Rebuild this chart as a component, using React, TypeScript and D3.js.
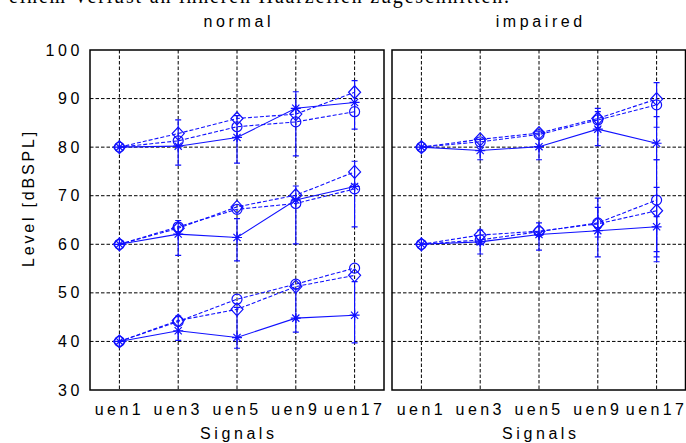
import React from 'react';
import * as d3 from 'd3';

const categories = ['uen1', 'uen3', 'uen5', 'uen9', 'uen17'];
const yTicks = [30, 40, 50, 60, 70, 80, 90, 100];

// normal hearing panel
const normal80Star = [80, 80.2, 82.0, 88.0, 89.2];
const normal80Circle = [80, 81.3, 84.2, 85.2, 87.3];
const normal80Diamond = [80, 82.8, 85.9, 86.8, 91.3];
const normal60Star = [60, 62.1, 61.4, 69.1, 71.9];
const normal60Circle = [60, 63.6, 67.2, 68.4, 71.4];
const normal60Diamond = [60, 63.3, 67.7, 70.1, 74.9];
const normal40Star = [40, 42.2, 40.8, 44.8, 45.4];
const normal40Circle = [40, 44.1, 48.7, 51.8, 55.1];
const normal40Diamond = [40, 44.3, 46.6, 51.3, 53.6];

const normal80Lo = [null, 76.3, 76.7, 78.2, 83.7];
const normal80Hi = [null, 85.6, 86.5, 91.4, 93.7];
const normal60Lo = [null, 57.7, 56.6, 60.1, 63.6];
const normal60Hi = [null, 64.9, 65.3, 72.0, 77.1];
const normal40Lo = [null, 40.2, 38.6, 41.9, 39.7];
const normal40Hi = [null, 45.2, 47.0, 50.8, 52.3];

// impaired hearing panel
const impaired80Star = [80, 79.3, 80.1, 83.7, 80.8];
const impaired80Circle = [80, 81.1, 82.6, 85.6, 88.7];
const impaired80Diamond = [80, 81.6, 82.9, 85.9, 89.9];
const impaired60Star = [60, 60.5, 62.0, 62.8, 63.6];
const impaired60Circle = [60, 60.9, 62.6, 64.4, 69.1];
const impaired60Diamond = [60, 61.9, 62.7, 64.2, 66.9];

const impaired80Lo = [null, 77.4, 77.4, 80.3, 77.4];
const impaired80Hi = [null, 81.6, 83.3, 87.3, 86.3];
const impaired80CircleLo = [null, null, null, 84.0, 84.1];
const impaired80CircleHi = [null, null, null, 88.0, 93.3];
const impaired60Lo = [null, 58.0, 58.8, 57.4, 57.4];
const impaired60Hi = [null, 62.9, 64.4, 67.6, 65.7];
const impaired60CircleLo = [null, null, null, 61.5, 58.5];
const impaired60CircleHi = [null, null, null, 69.5, 71.7];
const impaired60DiamondLo = [null, null, null, null, 56.4];
const impaired60DiamondHi = [null, null, null, null, 77.4];

const BLUE = '#1010ff';
const FONT = '"Liberation Sans", Arial, sans-serif';

type Series = { values: number[]; marker: 'star' | 'circle' | 'diamond'; lo?: (number | null)[]; hi?: (number | null)[] };

const normalSeries: Series[] = [
  { values: normal80Star, marker: 'star', lo: normal80Lo, hi: normal80Hi },
  { values: normal80Circle, marker: 'circle' },
  { values: normal80Diamond, marker: 'diamond' },
  { values: normal60Star, marker: 'star', lo: normal60Lo, hi: normal60Hi },
  { values: normal60Circle, marker: 'circle' },
  { values: normal60Diamond, marker: 'diamond' },
  { values: normal40Star, marker: 'star', lo: normal40Lo, hi: normal40Hi },
  { values: normal40Circle, marker: 'circle' },
  { values: normal40Diamond, marker: 'diamond' },
];

const impairedSeries: Series[] = [
  { values: impaired80Star, marker: 'star', lo: impaired80Lo, hi: impaired80Hi },
  { values: impaired80Circle, marker: 'circle', lo: impaired80CircleLo, hi: impaired80CircleHi },
  { values: impaired80Diamond, marker: 'diamond' },
  { values: impaired60Star, marker: 'star', lo: impaired60Lo, hi: impaired60Hi },
  { values: impaired60Circle, marker: 'circle', lo: impaired60CircleLo, hi: impaired60CircleHi },
  { values: impaired60Diamond, marker: 'diamond', lo: impaired60DiamondLo, hi: impaired60DiamondHi },
];

const TOP = 50;
const BOTTOM = 390;
const PANEL_W = 294;

const Marker = ({ kind, x, y }: { kind: string; x: number; y: number }) => {
  if (kind === 'circle') return <circle cx={x} cy={y} r={5} fill="none" stroke={BLUE} strokeWidth={1.2} />;
  if (kind === 'diamond') {
    return <path d={`M${x},${y - 6.5}L${x + 6},${y}L${x},${y + 6.5}L${x - 6},${y}Z`} fill="none" stroke={BLUE} strokeWidth={1.2} />;
  }
  const a = 5, b = 3.6;
  return (
    <path
      d={`M${x - a},${y}H${x + a}M${x},${y - a}V${y + a}M${x - b},${y - b}L${x + b},${y + b}M${x - b},${y + b}L${x + b},${y - b}`}
      stroke={BLUE}
      strokeWidth={1.2}
    />
  );
};

const Panel = ({ x0, title, series, right }: { x0: number; title: string; series: Series[]; right: number }) => {
  const x = d3.scaleLinear().domain([0.5, 5.5]).range([x0, x0 + PANEL_W]);
  const y = d3.scaleLinear().domain([30, 100]).range([BOTTOM, TOP]);
  const line = d3.line<number>().x((_, i) => x(i + 1)).y(d => y(d));
  return (
    <g>
      {yTicks.slice(1, -1).map(t => (
        <line key={`h${t}`} x1={x0} x2={right} y1={y(t)} y2={y(t)} stroke="#000" strokeWidth={1} strokeDasharray="3.5,2" />
      ))}
      {categories.map((c, i) => (
        <line key={`v${c}`} x1={x(i + 1)} x2={x(i + 1)} y1={TOP} y2={BOTTOM} stroke="#000" strokeWidth={1} strokeDasharray="3.5,2" />
      ))}
      {series.map((s, si) => (
        <g key={si}>
          <path d={line(s.values) || ''} fill="none" stroke={BLUE} strokeWidth={1.1} strokeDasharray={s.marker === 'star' ? undefined : '4,2'} />
          {s.lo && s.hi && s.values.map((_, i) => {
            const lo = s.lo![i], hi = s.hi![i];
            if (lo == null || hi == null) return null;
            const cx = x(i + 1);
            return (
              <path key={i} d={`M${cx},${y(lo)}V${y(hi)}M${cx - 3},${y(lo)}H${cx + 3}M${cx - 3},${y(hi)}H${cx + 3}`} stroke={BLUE} strokeWidth={1.2} fill="none" />
            );
          })}
          {s.values.map((v, i) => <Marker key={i} kind={s.marker} x={x(i + 1)} y={y(v)} />)}
        </g>
      ))}
      <rect x={x0} y={TOP} width={right - x0} height={BOTTOM - TOP} fill="none" stroke="#000" strokeWidth={1.5} />
      <text x={(x0 + x0 + PANEL_W) / 2 + 1.8} y={27} textAnchor="middle" fontFamily={FONT} fontSize={16} letterSpacing={3.6}>{title}</text>
      {categories.map((c, i) => (
        <text key={c} x={x(i + 1)} y={415} textAnchor="middle" fontFamily={FONT} fontSize={16} letterSpacing={3.4}>{c}</text>
      ))}
      <text x={(x0 + x0 + PANEL_W) / 2 + 1.8} y={439} textAnchor="middle" fontFamily={FONT} fontSize={16} letterSpacing={3.6}>Signals</text>
    </g>
  );
};

export default function App() {
  const y = d3.scaleLinear().domain([30, 100]).range([BOTTOM, TOP]);
  return (
    <div style={{ position: 'fixed', left: 0, top: 0 }}>
      <svg width={686} height={443} style={{ display: 'block', background: '#fff' }}>
        <text x={9} y={3} fontFamily='"Liberation Serif", serif' fontSize={20} textLength={500}>einem Verlust an inneren Haarzellen zugeschnitten.</text>
        {yTicks.map(t => (
          <text key={t} x={83} y={y(t) + 5.5} textAnchor="end" fontFamily={FONT} fontSize={16} letterSpacing={3.6}>{t}</text>
        ))}
        <text transform="translate(34,198) rotate(-90)" textAnchor="middle" fontFamily={FONT} fontSize={16} letterSpacing={2.8}>Level [dBSPL]</text>
        <Panel x0={90} right={384} title="normal" series={normalSeries} />
        <Panel x0={392} right={685.5} title="impaired" series={impairedSeries} />
      </svg>
    </div>
  );
}
